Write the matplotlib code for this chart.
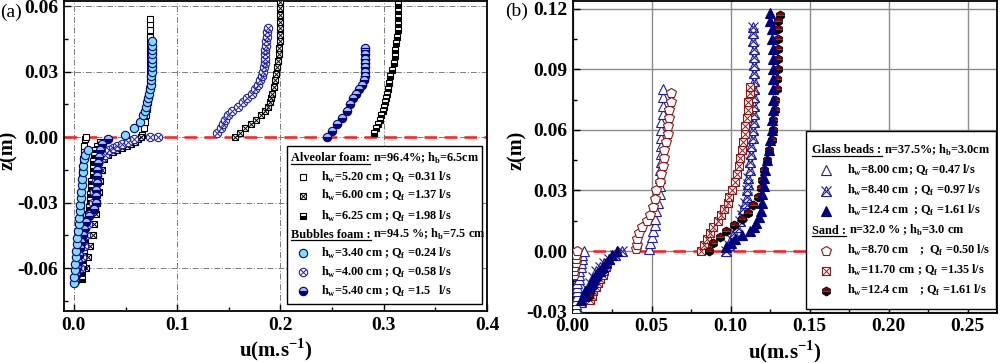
import numpy as np
import matplotlib
matplotlib.use("Agg")
import matplotlib.pyplot as plt
from matplotlib.patches import Rectangle

plt.rcParams['font.family'] = ['Liberation Serif', 'DejaVu Serif']
plt.rcParams['font.weight'] = 'bold'

# ---------------- Panel (a) data ----------------
a1_x = [0.003,0.003,0.004,0.004,0.004,0.005,0.005,0.005,0.006,0.006,0.006,0.007,0.007,0.007,0.008,0.008,0.008,0.009,0.009,0.010,0.010,0.011,0.012,
        0.066,0.068,0.069,0.070,0.071,0.072,0.073,0.073,0.074,0.074,0.074,0.074,0.074,0.074,0.074,0.074,0.074,0.074,0.074]
a1_z = [-0.064,-0.061,-0.058,-0.055,-0.052,-0.049,-0.046,-0.043,-0.040,-0.037,-0.034,-0.031,-0.028,-0.025,-0.022,-0.019,-0.016,-0.013,-0.010,-0.007,-0.004,-0.001,0.000,
        0.001,0.004,0.007,0.010,0.013,0.016,0.019,0.022,0.025,0.028,0.031,0.034,0.037,0.040,0.043,0.046,0.049,0.052,0.054]

a2_x = [0.012,0.014,0.016,0.018,0.019,0.021,0.022,0.024,0.025,0.027,0.029,0.033,0.038,0.042,0.047,0.051,0.055,0.059,0.062,0.065,
        0.156,0.161,0.166,0.171,0.176,0.181,0.185,0.188,0.190,0.191,0.192,0.194,0.195,0.196,0.197,0.198,0.199,0.199,0.200,0.200,0.200,0.200,0.200,0.200,0.200]
a2_z = [-0.060,-0.055,-0.050,-0.045,-0.040,-0.035,-0.030,-0.025,-0.020,-0.015,-0.010,-0.008,-0.007,-0.006,-0.005,-0.004,-0.003,-0.002,-0.001,0.000,
        0.000,0.002,0.004,0.006,0.008,0.010,0.012,0.014,0.016,0.018,0.020,0.023,0.026,0.029,0.032,0.035,0.038,0.041,0.044,0.047,0.050,0.053,0.056,0.059,0.062]

a3_x = [0.008,0.008,0.009,0.009,0.010,0.010,0.011,0.011,0.012,0.013,0.014,0.015,0.016,0.016,0.017,0.017,0.018,0.018,0.018,0.019,0.020,0.022,0.025,
        0.291,0.293,0.294,0.296,0.297,0.299,0.300,0.301,0.302,0.303,0.304,0.305,0.306,0.308,0.310,0.311,0.311,0.312,0.313,0.314,0.314,0.314,0.314,0.314]
a3_z = [-0.065,-0.062,-0.059,-0.056,-0.053,-0.050,-0.047,-0.044,-0.041,-0.038,-0.035,-0.032,-0.029,-0.026,-0.023,-0.020,-0.017,-0.014,-0.011,-0.008,-0.006,-0.004,-0.002,
        0.002,0.004,0.006,0.008,0.010,0.012,0.014,0.016,0.018,0.020,0.022,0.025,0.028,0.031,0.034,0.037,0.040,0.043,0.046,0.049,0.052,0.055,0.058,0.061]

b1_x = [0.000,0.000,0.001,0.001,0.002,0.002,0.003,0.003,0.004,0.005,0.005,0.006,0.006,0.007,0.007,0.008,0.008,0.009,0.009,0.010,0.011,0.014,
        0.049,0.058,0.064,0.067,0.069,0.070,0.071,0.072,0.073,0.074,0.075,0.075,0.075,0.076,0.076,0.076,0.076,0.076,0.076,0.076,0.076]
b1_z = [-0.067,-0.064,-0.061,-0.058,-0.055,-0.052,-0.049,-0.046,-0.043,-0.040,-0.037,-0.034,-0.031,-0.028,-0.025,-0.022,-0.019,-0.016,-0.013,-0.010,-0.008,-0.006,
        0.001,0.004,0.007,0.010,0.012,0.014,0.016,0.018,0.020,0.022,0.024,0.026,0.028,0.030,0.032,0.034,0.036,0.038,0.040,0.042,0.044]

b2_x = [0.006,0.008,0.010,0.012,0.014,0.016,0.018,0.019,0.021,0.023,0.026,0.030,0.034,0.038,0.042,0.047,0.052,0.058,0.074,0.081,
        0.139,0.142,0.144,0.146,0.149,0.153,0.159,0.164,0.168,0.172,0.175,0.178,0.180,0.182,0.183,0.184,0.185,0.185,0.185,0.185,0.186,0.186,0.187,0.187,0.188]
b2_z = [-0.060,-0.055,-0.050,-0.045,-0.040,-0.035,-0.030,-0.025,-0.020,-0.015,-0.010,-0.008,-0.006,-0.005,-0.004,-0.003,-0.002,-0.001,0.000,0.000,
        0.002,0.004,0.006,0.008,0.010,0.012,0.014,0.016,0.018,0.020,0.022,0.024,0.026,0.028,0.030,0.032,0.034,0.036,0.038,0.040,0.042,0.044,0.046,0.048,0.050]

b3_x = [0.001,0.002,0.003,0.004,0.005,0.006,0.007,0.009,0.010,0.012,0.015,0.019,0.021,0.021,0.021,0.022,0.022,0.022,0.023,0.024,0.025,0.027,0.033,
        0.245,0.250,0.255,0.260,0.264,0.267,0.270,0.273,0.276,0.279,0.281,0.282,0.282,0.282,0.282,0.282,0.282,0.282,0.282]
b3_z = [-0.066,-0.063,-0.060,-0.057,-0.054,-0.051,-0.048,-0.045,-0.042,-0.039,-0.036,-0.033,-0.030,-0.027,-0.024,-0.021,-0.018,-0.015,-0.012,-0.009,-0.006,-0.003,-0.001,
        0.000,0.003,0.006,0.009,0.012,0.015,0.018,0.020,0.022,0.024,0.026,0.028,0.030,0.032,0.034,0.036,0.038,0.040,0.041]

# ---------------- Panel (b) data ----------------
g1_x = [0.002,0.002,0.002,0.003,0.003,0.003,0.003,0.004,0.004,0.004,0.005,0.005,0.006,0.006,0.007,
        0.048,0.049,0.050,0.051,0.052,0.052,0.053,0.054,0.055,0.055,0.055,0.055,0.056,0.056,0.056,0.056,0.056,0.056,0.057,0.057,0.057,0.057]
g1_z = [-0.028,-0.026,-0.024,-0.022,-0.020,-0.018,-0.016,-0.014,-0.012,-0.010,-0.008,-0.006,-0.004,-0.002,0.000,
        0.001,0.004,0.007,0.010,0.013,0.016,0.020,0.024,0.028,0.032,0.036,0.040,0.044,0.048,0.052,0.056,0.060,0.064,0.068,0.072,0.076,0.080]

g2_x = [0.003,0.005,0.007,0.009,0.011,0.013,0.015,0.017,0.020,0.023,0.027,0.031,
        0.097,0.099,0.100,0.102,0.104,0.106,0.107,0.108,0.109,0.110,0.110,0.111,0.111,0.112,0.112,0.113,0.113,0.114,0.114,0.115,0.115,0.115,0.115,0.115,0.115,0.115,0.115,0.115,0.115,0.114,0.114,0.114]
g2_z = [-0.028,-0.025,-0.022,-0.019,-0.016,-0.013,-0.010,-0.008,-0.006,-0.004,-0.002,0.000,
        0.000,0.003,0.006,0.009,0.012,0.015,0.018,0.021,0.024,0.027,0.030,0.033,0.036,0.040,0.044,0.048,0.052,0.056,0.060,0.064,0.068,0.072,0.076,0.080,0.084,0.088,0.092,0.096,0.100,0.104,0.108,0.111]

g3_x = [0.005,0.007,0.008,0.010,0.012,0.013,0.015,0.017,0.019,0.021,0.023,0.025,0.028,
        0.097,0.100,0.103,0.107,0.112,0.115,0.116,0.118,0.119,0.120,0.120,0.121,0.121,0.122,0.123,0.124,0.125,0.126,0.126,0.127,0.127,0.127,0.127,0.127,0.127,0.127,0.126,0.126,0.125,0.125]
g3_z = [-0.024,-0.022,-0.020,-0.018,-0.016,-0.014,-0.012,-0.010,-0.008,-0.006,-0.004,-0.002,0.000,
        0.002,0.004,0.006,0.008,0.010,0.012,0.014,0.017,0.020,0.024,0.028,0.032,0.036,0.040,0.045,0.050,0.055,0.060,0.065,0.070,0.075,0.080,0.085,0.090,0.095,0.100,0.105,0.110,0.114,0.118]

s1_x = [0.001,0.001,0.001,0.002,0.002,0.002,0.003,
        0.040,0.041,0.041,0.042,0.044,0.047,0.049,0.051,0.052,0.053,0.055,0.056,0.057,0.058,0.058,0.059,0.060,0.060,0.061,0.061,0.062,0.062]
s1_z = [-0.012,-0.010,-0.008,-0.006,-0.004,-0.002,0.000,
        0.001,0.003,0.006,0.009,0.012,0.015,0.018,0.022,0.026,0.030,0.034,0.038,0.042,0.046,0.050,0.054,0.058,0.062,0.066,0.070,0.074,0.078]

s2_x = [0.011,0.012,0.013,0.015,0.016,0.017,0.019,0.020,0.021,0.022,
        0.081,0.083,0.085,0.087,0.089,0.092,0.094,0.096,0.098,0.099,0.101,0.103,0.104,0.105,0.106,0.107,0.108,0.109,0.109,0.110,0.111,0.111,0.112,0.112]
s2_z = [-0.024,-0.022,-0.020,-0.018,-0.016,-0.014,-0.012,-0.010,-0.008,-0.006,
        0.000,0.003,0.006,0.009,0.012,0.015,0.018,0.021,0.024,0.027,0.030,0.034,0.038,0.042,0.046,0.050,0.054,0.058,0.062,0.066,0.070,0.074,0.078,0.081]

s3_x = [0.010,0.011,0.012,0.013,0.014,0.016,0.018,
        0.086,0.089,0.093,0.097,0.102,0.107,0.111,0.114,0.117,0.119,0.120,0.121,0.123,0.124,0.126,0.127,0.127,0.128,0.128,0.129,0.129,0.130,0.130,0.130,0.130,0.130,0.130,0.131]
s3_z = [-0.022,-0.020,-0.018,-0.016,-0.014,-0.012,-0.010,
        0.000,0.004,0.007,0.010,0.013,0.016,0.019,0.023,0.027,0.031,0.035,0.040,0.045,0.050,0.055,0.060,0.065,0.070,0.075,0.080,0.085,0.090,0.095,0.100,0.105,0.110,0.114,0.117]

a_labels = [r'h$_\mathregular{w}$=5.20 cm', r'h$_\mathregular{w}$=6.00 cm', r'h$_\mathregular{w}$=6.25 cm',
            r'h$_\mathregular{w}$=3.40 cm', r'h$_\mathregular{w}$=4.00 cm', r'h$_\mathregular{w}$=5.40 cm']
a_q = [r'; Q$_\mathregular{f}$ =0.31 l/s', r'; Q$_\mathregular{f}$ =1.37 l/s', r'; Q$_\mathregular{f}$ =1.98 l/s',
       r'; Q$_\mathregular{f}$ =0.24 l/s', r'; Q$_\mathregular{f}$ =0.58 l/s', r'; Q$_\mathregular{f}$ =1.5   l/s']
b_labels = [r'h$_\mathregular{w}$=8.00 cm', r'h$_\mathregular{w}$=8.40 cm', r'h$_\mathregular{w}$=12.4 cm',
            r'h$_\mathregular{w}$=8.70 cm', r'h$_\mathregular{w}$=11.70 cm', r'h$_\mathregular{w}$=12.4 cm']
b_q = [r'; Q$_\mathregular{f}$ =0.47 l/s', r'; Q$_\mathregular{f}$ =0.97 l/s', r'; Q$_\mathregular{f}$ =1.61 l/s',
       r';  Q$_\mathregular{f}$ =0.50 l/s', r'; Q$_\mathregular{f}$ =1.35 l/s', r'; Q$_\mathregular{f}$ =1.61 l/s']

NAVY = '#000080'
BLUE = '#1f1f9a'
CYAN = '#7fdcf5'
DRED = '#8b1a1a'

styles_a = [
    dict(marker='s', ms=5, mfc='white', mec='black', mew=0.8),
    dict(marker='s', ms=5, mfc='white', mec='black', mew=0.8, over=dict(marker='x', ms=5, mec='black', mew=0.7)),
    dict(marker='s', ms=5, mfc='black', mfcalt='white', fillstyle='bottom', mec='black', mew=0.8),
    dict(marker='o', ms=6, mfc=CYAN, mec=NAVY, mew=0.8),
    dict(marker='o', ms=6, mfc='white', mec=BLUE, mew=0.8, over=dict(marker='x', ms=4.2, mec=BLUE, mew=0.7)),
    dict(marker='o', ms=6, mfc=NAVY, mfcalt='#9ec4ee', fillstyle='bottom', mec=NAVY, mew=0.8),
]
styles_b = [
    dict(marker='^', ms=7, mfc='white', mec=BLUE, mew=0.8),
    dict(marker='^', ms=7, mfc='white', mec=BLUE, mew=0.8, over=dict(marker='x', ms=7, mec=BLUE, mew=0.8)),
    dict(marker='^', ms=7, mfc=NAVY, mec=NAVY, mew=0.8),
    dict(marker='p', ms=7, mfc='white', mec=DRED, mew=0.8),
    dict(marker='s', ms=5.5, mfc='white', mec=DRED, mew=0.8, over=dict(marker='x', ms=5.5, mec=DRED, mew=0.7)),
    dict(marker='h', ms=6.5, mfc='black', mfcalt='#8b0000', fillstyle='bottom', mec='black', mew=0.6),
]


def draw(ax, x, z, st, **kw):
    st = dict(st)
    over = st.pop('over', None)
    ax.plot(x, z, ls='none', **st, **kw)
    if over is not None:
        ax.plot(x, z, ls='none', **over, **kw)


fig = plt.figure(figsize=(10, 3.63), dpi=100)
axA = fig.add_axes([0.064, 0.143, 0.423, 0.853])
axB = fig.add_axes([0.5727, 0.138, 0.4243, 0.859])

def setup(ax, xlim, ylim, xt, yt, xminor, yminor, xfmt, grid_ls):
    ax.set_xlim(*xlim)
    ax.set_ylim(*ylim)
    ax.set_xticks(xt)
    ax.set_yticks(yt)
    ax.set_xticks(xminor, minor=True)
    ax.set_yticks(yminor, minor=True)
    ax.set_xticklabels([xfmt.format(v) for v in xt])
    ax.set_yticklabels(['{:.2f}'.format(v) for v in yt])
    ax.tick_params(which='major', direction='in', length=5, width=1.0, labelsize=14, pad=4)
    ax.tick_params(which='minor', direction='in', length=3, width=1.0)
    for lab in ax.get_xticklabels() + ax.get_yticklabels():
        lab.set_fontweight('bold')
    for s in ax.spines.values():
        s.set_linewidth(1.3)
    if grid_ls == 'dashdot':
        ax.grid(True, which='major', color='#7a7a7a', ls=(0, (6, 2, 1, 2)), lw=0.7)
    else:
        ax.grid(True, which='major', color='#8c8c8c', ls='-', lw=1.0)
    ax.set_axisbelow(True)
    ax.set_xlabel(r'u(m.s$^\mathregular{-1}$)', fontsize=15, fontweight='bold', labelpad=2)
    ax.set_ylabel('z(m)', fontsize=14.5, fontweight='bold')
    ax.yaxis.set_label_coords(-0.108, 0.52)

setup(axA, (-0.0096, 0.4), (-0.0797, 0.0622),
      [0.0, 0.1, 0.2, 0.3, 0.4], [-0.06, -0.03, 0.0, 0.03, 0.06],
      [0.05, 0.15, 0.25, 0.35], [-0.075, -0.045, -0.015, 0.015, 0.045],
      '{:.1f}', 'dashdot')
setup(axB, (0.0, 0.2685), (-0.0306, 0.1237),
      [0.0, 0.05, 0.10, 0.15, 0.20, 0.25], [-0.03, 0.0, 0.03, 0.06, 0.09, 0.12],
      [0.025, 0.075, 0.125, 0.175, 0.225], [-0.015, 0.015, 0.045, 0.075, 0.105],
      '{:.2f}', 'solid')

# red interface lines
for ax in (axA, axB):
    ax.axhline(0.0, color='#ff1a1a', ls=(0, (5, 3)), lw=1.8, zorder=1.5)

# panel (a) series
a_data = [(a1_x, a1_z), (a2_x, a2_z), (a3_x, a3_z), (b1_x, b1_z), (b2_x, b2_z), (b3_x, b3_z)]
for i in [0, 1, 2, 4, 5, 3]:
    draw(axA, a_data[i][0], a_data[i][1], styles_a[i], zorder=3)

# panel (b) series
b_data = [(g1_x, g1_z), (g2_x, g2_z), (g3_x, g3_z), (s1_x, s1_z), (s2_x, s2_z), (s3_x, s3_z)]
for i in [1, 4, 0, 3, 5, 2]:
    draw(axB, b_data[i][0], b_data[i][1], styles_b[i], zorder=3)

# ---------------- legends (hand-built) ----------------
FS = 8.8

def legend_box(ax, box, head1, head2, rows_y, head_y, head_x, mark_x, text_x, q_x, labels, qs, styles):
    x0, y0, x1, y1 = box
    ax.add_patch(Rectangle((x0, y0), x1 - x0, y1 - y0, transform=ax.transAxes,
                           facecolor='white', edgecolor='black', lw=1.0, zorder=9, clip_on=False))
    heads = []
    for (h_a, h_b), hy in zip([head1, head2], head_y):
        t = ax.text(head_x, hy, h_a, transform=ax.transAxes, fontsize=FS, fontweight='bold',
                    ha='left', va='center', zorder=11)
        heads.append((t, h_b, hy))
    for i, (lab, q, st) in enumerate(zip(labels, qs, styles)):
        y = rows_y[i]
        draw(ax, [mark_x], [y], st, transform=ax.transAxes, clip_on=False, zorder=10)
        ax.text(text_x, y, lab, transform=ax.transAxes, fontsize=FS, fontweight='bold',
                ha='left', va='center', zorder=11)
        ax.text(q_x[i], y, q, transform=ax.transAxes, fontsize=FS, fontweight='bold',
                ha='left', va='center', zorder=11)
    return heads

headsA = legend_box(axA, (0.527, 0.0226, 0.988, 0.533),
                    ('Alveolar foam:', r'n=96.4%; h$_\mathregular{b}$=6.5cm'),
                    ('Bubbles foam :', r'n=94.5 %; h$_\mathregular{b}$=7.5 cm'),
                    [0.433, 0.372, 0.307, 0.187, 0.126, 0.065], [0.494, 0.246],
                    0.537, 0.565, 0.607, [0.757] * 6, a_labels, a_q, styles_a)
headsB = legend_box(axB, (0.550, 0.0128, 0.998, 0.583),
                    ('Glass beads :', r'n=37.5%; h$_\mathregular{b}$=3.0cm'),
                    ('Sand :', r'n=32.0 % ; h$_\mathregular{b}$=3.0 cm'),
                    [0.458, 0.392, 0.328, 0.199, 0.135, 0.071], [0.522, 0.264],
                    0.565, 0.597, 0.646, [0.790, 0.802, 0.802, 0.815, 0.812, 0.815],
                    b_labels, b_q, styles_b)

fig.canvas.draw()
renderer = fig.canvas.get_renderer()
for ax, heads in ((axA, headsA), (axB, headsB)):
    inv = ax.transAxes.inverted()
    for t, rest, hy in heads:
        bb = t.get_window_extent(renderer)
        (bx0, by0), (bx1, by1) = inv.transform([[bb.x0, bb.y0], [bb.x1, bb.y1]])
        ax.plot([bx0, bx1], [by0 + 0.002, by0 + 0.002], transform=ax.transAxes, color='black',
                lw=0.9, clip_on=False, zorder=11)
        ax.text(bx1 + 0.006, hy, rest, transform=ax.transAxes, fontsize=FS, fontweight='bold',
                ha='left', va='center', zorder=11)

fig.text(0.0, 0.965, '(a)', fontsize=14, fontweight='normal', ha='left', va='center')
fig.text(0.505, 0.968, '(b)', fontsize=14, fontweight='normal', ha='left', va='center')

fig.savefig('out.png', dpi=100)
